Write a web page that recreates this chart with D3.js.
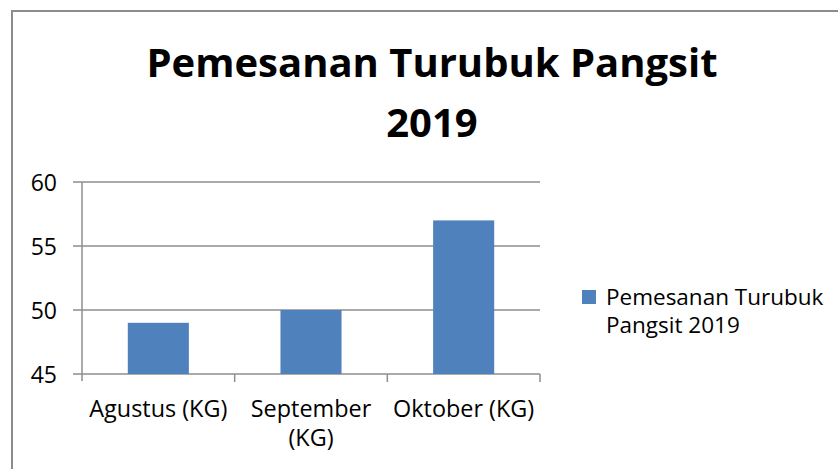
<!DOCTYPE html>
<html lang="id">
<head>
<meta charset="utf-8">
<script src="https://d3js.org/d3.v7.min.js"></script>
<style>
  body { margin: 0; background: #fff; }
  text { font-family: "Open Sans", Lato, sans-serif; fill: #000; }
</style>
</head>
<body>
<script>
// data
var categories = [["Agustus (KG)"], ["September", "(KG)"], ["Oktober (KG)"]];
var values = [49, 50, 57];
var yTicks = [45, 50, 55, 60];
var titleLines = ["Pemesanan Turubuk Pangsit", "2019"];
var legendLines = ["Pemesanan Turubuk", "Pangsit 2019"];

var width = 838, height = 469;
var svg = d3.select('body').append('svg').attr('width', width).attr('height', height);

// chart frame (runs off the right / bottom edge)
svg.append('rect')
  .attr('x', 12).attr('y', 11).attr('width', 900).attr('height', 600)
  .attr('fill', '#fff').attr('stroke', '#8c8c8c').attr('stroke-width', 2);

var plot = {left: 82, right: 540, top: 182, bottom: 374};

var x = d3.scaleBand()
  .domain(d3.range(values.length))
  .range([plot.left, plot.right])
  .paddingInner(0.6).paddingOuter(0.3);
var xEdge = d3.scaleLinear().domain([0, values.length]).range([plot.left, plot.right]);
var y = d3.scaleLinear().domain([45, 60]).range([plot.bottom, plot.top]);

// gridlines
svg.append('g').selectAll('line').data(yTicks).join('line')
  .attr('x1', plot.left - 9).attr('x2', plot.right)
  .attr('y1', function(d) { return y(d); }).attr('y2', function(d) { return y(d); })
  .attr('stroke', '#8e8e8e').attr('stroke-width', 1.5);

// y axis line
svg.append('line')
  .attr('x1', plot.left).attr('x2', plot.left)
  .attr('y1', plot.top).attr('y2', plot.bottom + 7)
  .attr('stroke', '#8e8e8e').attr('stroke-width', 1.5);

// x ticks between categories
svg.append('g').selectAll('line').data(d3.range(1, values.length + 1)).join('line')
  .attr('x1', function(d) { return xEdge(d); }).attr('x2', function(d) { return xEdge(d); })
  .attr('y1', plot.bottom).attr('y2', plot.bottom + 8)
  .attr('stroke', '#8e8e8e').attr('stroke-width', 1.5);

// bars
svg.append('g').selectAll('rect').data(values).join('rect')
  .attr('x', function(d, i) { return x(i); })
  .attr('width', x.bandwidth())
  .attr('y', function(d) { return y(d); })
  .attr('height', function(d) { return y(45) - y(d); })
  .attr('fill', '#4f81bd');

// y tick labels
svg.append('g').selectAll('text').data(yTicks).join('text')
  .attr('x', 57).attr('y', function(d) { return y(d); })
  .attr('dy', '0.37em')
  .attr('text-anchor', 'end')
  .style('font-size', '23px')
  .text(function(d) { return d; });

// category labels
var cat = svg.append('g').selectAll('text').data(categories).join('text')
  .attr('text-anchor', 'middle')
  .style('font-size', '23.4px')
  .attr('transform', function(d, i) { return 'translate(' + (x(i) + x.bandwidth() / 2) + ',417)'; });
cat.selectAll('tspan').data(function(d) { return d; }).join('tspan')
  .attr('x', 0).attr('y', function(d, i) { return i * 29; })
  .text(function(d) { return d; });

// title
svg.append('g').selectAll('text').data(titleLines).join('text')
  .attr('x', 432).attr('y', function(d, i) { return 77 + i * 60; })
  .attr('text-anchor', 'middle')
  .style('font-size', '40px').style('font-weight', 'bold')
  .text(function(d) { return d; });

// legend
svg.append('rect')
  .attr('x', 582).attr('y', 290).attr('width', 14).attr('height', 14)
  .attr('fill', '#4f81bd');
svg.append('g').selectAll('text').data(legendLines).join('text')
  .attr('x', 606).attr('y', function(d, i) { return 305 + i * 28; })
  .style('font-size', '22.5px')
  .text(function(d) { return d; });
</script>
</body>
</html>
